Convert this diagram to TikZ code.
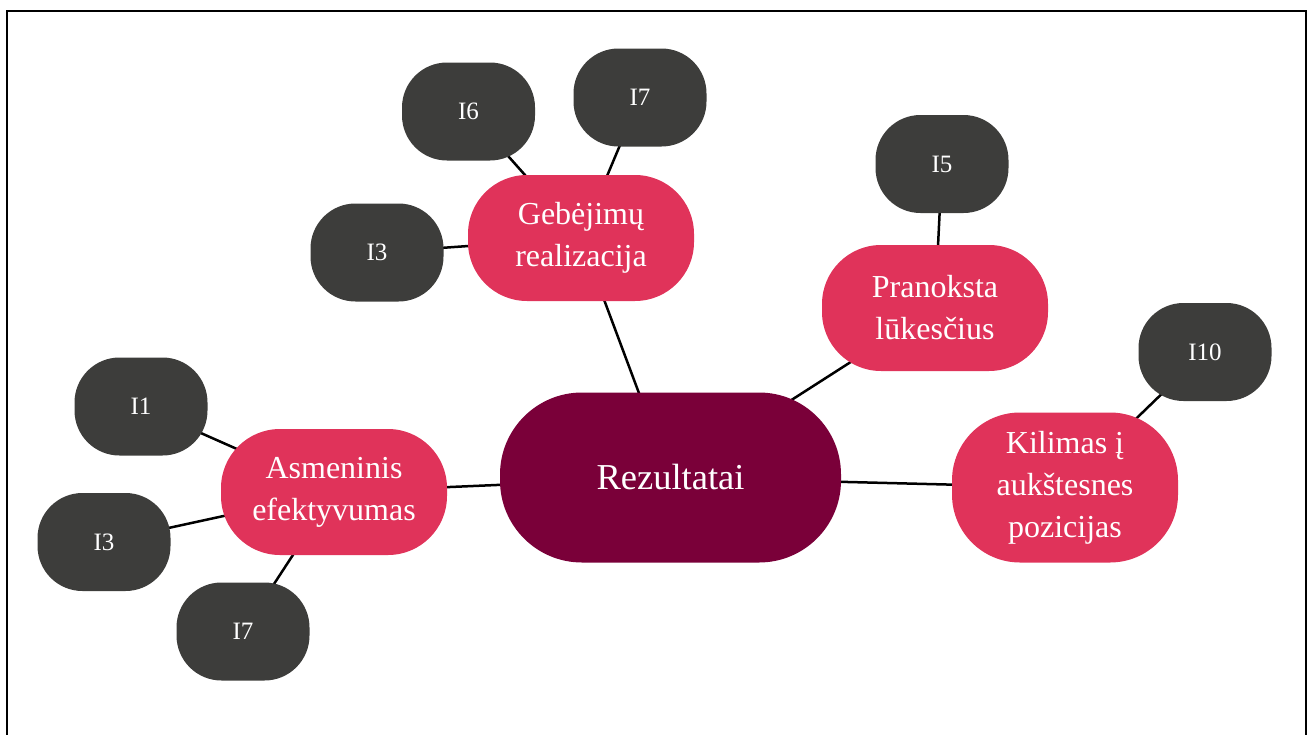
\documentclass[tikz,border=0pt]{standalone}
\usepackage{fontspec}
\setmainfont{Liberation Serif}
\usetikzlibrary{backgrounds}
\definecolor{rezc}{HTML}{7A0039}
\definecolor{pinkc}{HTML}{E0335A}
\definecolor{darkc}{HTML}{3D3D3B}
\begin{document}
\begin{tikzpicture}[x=1pt,y=-1pt,
  mainnode/.style={fill=rezc, text=white, rounded corners=82pt, minimum width=341pt, minimum height=170pt, inner sep=0pt, font=\fontsize{36.5}{40}\selectfont},
  subnode/.style={fill=pinkc, text=white, rounded corners=59pt, minimum width=226pt, minimum height=126pt, inner sep=0pt, align=center, font=\fontsize{32}{42}\selectfont},
  leafnode/.style={fill=darkc, text=white, rounded corners=45pt, minimum width=133pt, minimum height=98pt, inner sep=0pt, font=\fontsize{25}{30}\selectfont},
  link/.style={line width=2.5pt, black}]
\useasboundingbox (0,0) rectangle (1307,734);
\clip (0,0) rectangle (1307,734);
\draw[line width=2pt, black] (7,740) -- (7,11) -- (1305.5,11) -- (1305.5,740);

\node[mainnode] (rez) at (670.5,477.5) {Rezultatai};
\node[subnode] (geb) at (581,238) {Gebėjimų\\realizacija};
\node[subnode] (pra) at (935,308) {Pranoksta\\lūkesčius};
\node[subnode, minimum height=150pt, rounded corners=68pt] (kil) at (1065,487.5) {Kilimas į\\aukštesnes\\pozicijas};
\node[subnode] (asm) at (334,492) {Asmeninis\\efektyvumas};

\node[leafnode] (i6) at (468.5,111.5) {I6};
\node[leafnode] (i7a) at (640,97.5) {I7};
\node[leafnode] (i3a) at (377,252.5) {I3};
\node[leafnode] (i5) at (942,164) {I5};
\node[leafnode] (i10) at (1205,352) {I10};
\node[leafnode] (i1) at (141,406.5) {I1};
\node[leafnode] (i3b) at (104,542) {I3};
\node[leafnode] (i7b) at (243,631.5) {I7};

\begin{scope}[on background layer]
\draw[link] (rez.center) -- (geb.center);
\draw[link] (rez.center) -- (pra.center);
\draw[link] (rez.center) -- (kil.center);
\draw[link] (rez.center) -- (asm.center);
\draw[link] (geb.center) -- (i6.center);
\draw[link] (geb.center) -- (i7a.center);
\draw[link] (geb.center) -- (i3a.center);
\draw[link] (pra.center) -- (i5.center);
\draw[link] (kil.center) -- (i10.center);
\draw[link] (asm.center) -- (i1.center);
\draw[link] (asm.center) -- (i3b.center);
\draw[link] (asm.center) -- (i7b.center);
\end{scope}
\end{tikzpicture}
\end{document}
